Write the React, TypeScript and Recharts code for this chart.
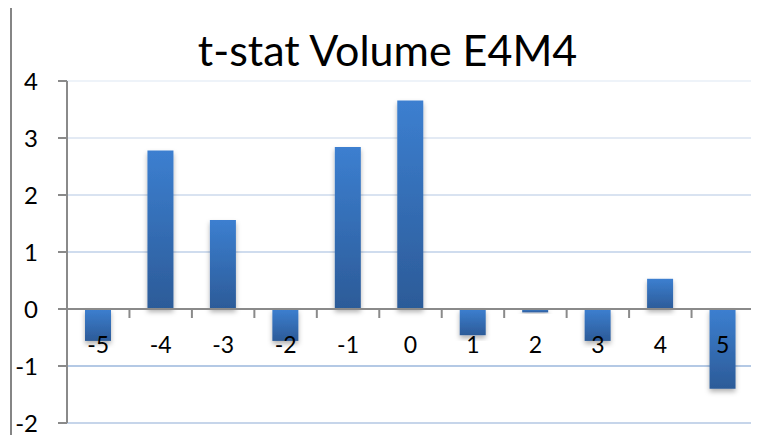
import { BarChart, Bar, XAxis, YAxis, CartesianGrid, ReferenceLine } from "recharts";

const lags = ["-5", "-4", "-3", "-2", "-1", "0", "1", "2", "3", "4", "5"];
const tStats = [-0.56, 2.78, 1.56, -0.56, 2.84, 3.66, -0.46, -0.06, -0.56, 0.53, -1.4];
const yTicks = [-2, -1, 0, 1, 2, 3, 4];
// gridlines fade out towards the top, like the original
const gridColors: Record<number, string> = {
  "-2": "#c6d5ea",
  "-1": "#b4c9e5",
  0: "none",
  1: "#cfdcee",
  2: "#d9e3f1",
  3: "#e3eaf4",
  4: "#eef3f9",
};
const title = "t-stat Volume E4M4";

const data = lags.map((lag, i) => ({ lag, t: tStats[i] }));

const W = 759;
const H = 443;
const margin = { top: 81, right: 5, bottom: 0, left: 0 };
const Y_AXIS_W = 67;
const X_AXIS_H = 20;
const plotW = W - margin.left - margin.right - Y_AXIS_W;
const plotH = H - margin.top - margin.bottom - X_AXIS_H;
const yMin = yTicks[0];
const yMax = yTicks[yTicks.length - 1];
// distance from plot bottom up to the zero line (x axis crosses at 0)
const zeroUp = (plotH * (0 - yMin)) / (yMax - yMin);
const step = plotW / lags.length;
const AXIS = "#8a8a8a";
const FONT = "Lato, 'Open Sans', sans-serif";

function GridLine(props: any) {
  const { x1, x2, y1, y2 } = props;
  const v = Math.round(yMax - ((y1 - margin.top) / plotH) * (yMax - yMin));
  const c = gridColors[v] ?? "#d9e3f1";
  if (c === "none") return <g />;
  return <line x1={x1} x2={x2} y1={y1} y2={y2} stroke={c} strokeWidth={2} />;
}

function LagTick(props: any) {
  const { x, y, payload, index } = props;
  const y0 = y - zeroUp;
  const left = x - step / 2;
  return (
    <g>
      <line x1={left} x2={left} y1={y0} y2={y0 + 9} stroke={AXIS} strokeWidth={2} />
      {index === lags.length - 1 && (
        <line x1={x + step / 2} x2={x + step / 2} y1={y0} y2={y0 + 9} stroke={AXIS} strokeWidth={2} />
      )}
      <text x={x} y={y0 + 44} textAnchor="middle" fontSize={23} fill="#000" fontFamily={FONT}>
        {payload.value}
      </text>
    </g>
  );
}

export default function App() {
  return (
    <div
      style={{
        position: "relative",
        margin: -8,
        width: W,
        height: H,
        overflow: "hidden",
        background: "#fff",
        fontFamily: FONT,
      }}
    >
      <div
        style={{
          position: "absolute",
          left: 10,
          top: 4,
          width: 800,
          height: 500,
          border: "2px solid #858585",
        }}
      />
      <div
        style={{
          position: "absolute",
          left: 0,
          width: W + 16,
          top: 22,
          textAlign: "center",
          fontSize: 43,
          lineHeight: "56px",
          color: "#000",
        }}
      >
        {title}
      </div>
      <div style={{ position: "absolute", left: 0, top: 0 }}>
        <BarChart width={W} height={H} data={data} margin={margin}>
          <defs>
            <linearGradient id="barGrad" x1="0" y1="0" x2="0" y2="1">
              <stop offset="0%" stopColor="#3c7fd0" />
              <stop offset="100%" stopColor="#2c5b98" />
            </linearGradient>
            <filter id="barShadow" x="-30%" y="-10%" width="160%" height="130%">
              <feDropShadow dx="0" dy="3" stdDeviation="2.5" floodColor="#000" floodOpacity="0.3" />
            </filter>
          </defs>
          <CartesianGrid vertical={false} horizontal={(p: any) => <GridLine {...p} />} />
          <YAxis
            domain={[yMin, yMax]}
            ticks={yTicks}
            width={Y_AXIS_W}
            tickSize={9}
            tickMargin={20}
            axisLine={{ stroke: AXIS, strokeWidth: 2 }}
            tickLine={{ stroke: AXIS, strokeWidth: 2 }}
            tick={{ fill: "#000", fontSize: 24, fontFamily: FONT }}
            interval={0}
          />
          <Bar
            dataKey="t"
            barSize={26}
            fill="url(#barGrad)"
            filter="url(#barShadow)"
            isAnimationActive={false}
          />
          <ReferenceLine y={0} stroke={AXIS} strokeWidth={2} />
          <XAxis
            dataKey="lag"
            height={X_AXIS_H}
            axisLine={false}
            tickLine={false}
            tickSize={0}
            tickMargin={0}
            interval={0}
            tick={<LagTick />}
          />
        </BarChart>
      </div>
    </div>
  );
}
